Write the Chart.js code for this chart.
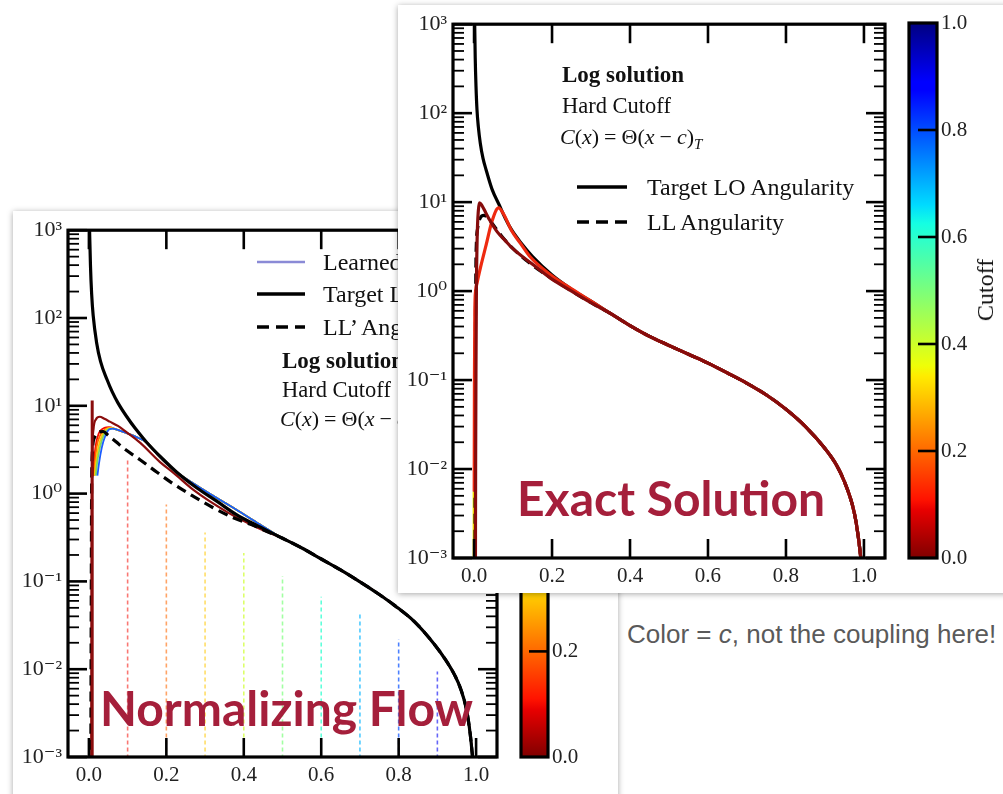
<!DOCTYPE html>
<html><head><meta charset="utf-8">
<script src="https://cdn.jsdelivr.net/npm/chart.js@4.4.0/dist/chart.umd.min.js"></script>
<style>
html,body{margin:0;padding:0;background:#fff;width:1003px;height:794px;overflow:hidden;position:relative}
.card{position:absolute;background:#fff;box-shadow:0 1px 6px rgba(0,0,0,0.35);overflow:hidden}
canvas{position:absolute;top:0}
svg{position:absolute}
.t{position:absolute;white-space:nowrap;line-height:1;transform:translateY(-50%);font-family:"Liberation Serif","DejaVu Serif",serif;color:#111;font-size:24px}
.b{font-weight:bold}
.m{margin:0 5px}
.big{position:absolute;white-space:nowrap;line-height:1;transform:translateY(-50%);font-family:Lato,"Noto Sans",sans-serif;font-weight:bold;font-size:48px;color:#a51f3b}
.note{position:absolute;white-space:nowrap;line-height:1;transform:translateY(-50%);font-family:"Liberation Sans",Arial,sans-serif;font-size:26px;color:#5a5a5a}
</style></head>
<body>
<div class="card" id="backCard" style="left:13px;top:211px;width:605px;height:600px">
  <canvas id="nf" width="500" height="583" style="left:0"></canvas>
  <canvas id="nfbar" width="100" height="583" style="left:502px"></canvas>
  <svg style="left:244px;top:41px" width="48" height="20"><line x1="0" y1="10" x2="48" y2="10" stroke="#8a8ad6" stroke-width="2.5"/></svg>
  <svg style="left:244px;top:73px" width="48" height="20"><line x1="0" y1="10" x2="48" y2="10" stroke="#000" stroke-width="3.5"/></svg>
  <svg style="left:244px;top:106px" width="48" height="20"><line x1="0" y1="10" x2="48" y2="10" stroke="#000" stroke-width="3.5" stroke-dasharray="12 7"/></svg>
  <div class="t" style="left:310px;top:51px">Learned Flow</div>
  <div class="t" style="left:310px;top:83px">Target LO Angularity</div>
  <div class="t" style="left:310px;top:116px">LL’ Angularity</div>
  <div class="t b" style="left:269px;top:149px;font-size:23px">Log solution</div>
  <div class="t" style="left:269px;top:179px;font-size:22.5px">Hard Cutoff</div>
  <div class="t" style="left:267px;top:210px;font-size:22px"><i>C</i>(<i>x</i>)<span class="m">=</span>Θ(<i>x</i><span class="m">−</span><i>c</i>)<sub style="font-size:15px"><i>T</i></sub></div>
  <div class="big" style="left:87px;top:497px">Normalizing Flow</div>
</div>
<div class="card" id="frontCard" style="left:398px;top:5px;width:620px;height:588px">
  <canvas id="ex" width="503" height="588" style="left:0"></canvas>
  <canvas id="exbar" width="100" height="588" style="left:505px"></canvas>
  <div class="t b" style="left:164px;top:69px;font-size:23px">Log solution</div>
  <div class="t" style="left:164px;top:101px;font-size:22.5px">Hard Cutoff</div>
  <div class="t" style="left:162px;top:134px;font-size:22px"><i>C</i>(<i>x</i>)<span class="m">=</span>Θ(<i>x</i><span class="m">−</span><i>c</i>)<sub style="font-size:15px"><i>T</i></sub></div>
  <svg style="left:179px;top:172px" width="50" height="20"><line x1="0" y1="10" x2="50" y2="10" stroke="#000" stroke-width="3.5"/></svg>
  <svg style="left:179px;top:207px" width="50" height="20"><line x1="0" y1="10" x2="50" y2="10" stroke="#000" stroke-width="3.5" stroke-dasharray="12 7"/></svg>
  <div class="t" style="left:249px;top:182px">Target LO Angularity</div>
  <div class="t" style="left:249px;top:217px">LL Angularity</div>
  <div class="t" style="left:587px;top:285px;transform:translate(-50%,-50%) rotate(-90deg);font-size:24px">Cutoff</div>
  <div class="big" style="left:119px;top:493px">Exact Solution</div>
</div>
<div class="note" style="left:627px;top:634px">Color = <i>c</i>, not the coupling here!</div>

<script>
// ---------------- DATA ----------------
const xTickValues = [0, 0.2, 0.4, 0.6, 0.8, 1.0];
const xTickLabels = ['0.0', '0.2', '0.4', '0.6', '0.8', '1.0'];
const yDecades = [-3, -2, -1, 0, 1, 2, 3];
const yTickLabels = ['10⁻³', '10⁻²', '10⁻¹', '10⁰', '10¹', '10²', '10³'];
const cbarRange = [0, 1];
const cbarTicks = [0, 0.2, 0.4, 0.6, 0.8, 1.0];
const cbarTickLabels = ['0.0', '0.2', '0.4', '0.6', '0.8', '1.0'];

// ---- Exact Solution (front) ----
const exTailX = [0.35, 0.4, 0.45, 0.5, 0.55, 0.6, 0.65, 0.7, 0.75, 0.8, 0.85, 0.9, 0.93, 0.95, 0.97, 0.98, 0.99, 0.995];
const exTailY = [0.56, 0.41, 0.31, 0.245, 0.195, 0.155, 0.12, 0.092, 0.068, 0.047, 0.03, 0.017, 0.011, 0.0072, 0.004, 0.0025, 0.0012, 0.0007];
const exTargetX = [0.0015, 0.003, 0.005, 0.0075, 0.011, 0.016, 0.023, 0.031, 0.046, 0.066, 0.08, 0.096, 0.12, 0.15, 0.2, 0.25, 0.3];
const exTargetY = [1100, 420, 200, 110, 70, 46, 31, 23, 14, 9.0, 6.6, 4.9, 3.5, 2.45, 1.52, 1.05, 0.77];
const exLLX = [0.0025, 0.003, 0.0045, 0.006, 0.009, 0.015, 0.025, 0.035, 0.05, 0.07, 0.1, 0.15, 0.2, 0.25, 0.3];
const exLLY = [0.0007, 0.05, 1.5, 3.5, 5.0, 6.5, 7.1, 6.7, 5.5, 4.2, 3.0, 1.95, 1.38, 1.0, 0.74];
const exC0X = [0.0035, 0.004, 0.005, 0.006, 0.008, 0.011, 0.014, 0.02, 0.03, 0.04, 0.06, 0.08, 0.096, 0.15, 0.196, 0.25, 0.3];
const exC0Y = [0.0007, 0.01, 0.16, 1.0, 4.0, 8.0, 9.8, 9.2, 7.6, 6.3, 4.6, 3.7, 3.1, 2.0, 1.4, 1.0, 0.74];
const exC1X = [0.0004, 0.001, 0.002, 0.004, 0.008, 0.016, 0.031, 0.046, 0.063, 0.076, 0.096, 0.12, 0.145, 0.195, 0.25, 0.3];
const exC1Y = [0.0056, 0.1, 0.6, 1.0, 1.25, 1.8, 3.3, 6.1, 8.6, 7.3, 4.8, 3.4, 2.4, 1.54, 1.06, 0.77];
const exC3X = [0.0002, 0.0004];
const exC3Y = [0.0007, 0.0056];

// ---- Normalizing Flow (back) ----
const nfTailX = [0.5, 0.55, 0.6, 0.65, 0.7, 0.75, 0.79, 0.84, 0.893, 0.92, 0.945, 0.96, 0.975, 0.985, 0.993];
const nfTailY = [0.31, 0.24, 0.18, 0.135, 0.099, 0.071, 0.053, 0.035, 0.019, 0.013, 0.0085, 0.006, 0.0035, 0.0018, 0.0008];
const nfTargetX = [0.0015, 0.004, 0.007, 0.011, 0.02, 0.03, 0.047, 0.06, 0.075, 0.097, 0.12, 0.15, 0.19, 0.227, 0.28, 0.33, 0.38, 0.44];
const nfTargetY = [1100, 400, 190, 107, 52, 32, 19.8, 14.5, 10.8, 7.6, 5.5, 3.8, 2.5, 1.75, 1.15, 0.82, 0.58, 0.42];
const nfLLX = [0.005, 0.006, 0.007, 0.009, 0.015, 0.025, 0.037, 0.05, 0.07, 0.089, 0.132, 0.175, 0.218, 0.27, 0.321, 0.373, 0.416, 0.46];
const nfLLY = [0.0008, 0.05, 1.0, 3.0, 4.4, 5.0, 5.1, 4.6, 3.9, 3.3, 2.43, 1.76, 1.29, 0.93, 0.69, 0.53, 0.45, 0.37];
const nfC0X = [0.006, 0.007, 0.009, 0.012, 0.018, 0.028, 0.04, 0.054, 0.075, 0.097, 0.132, 0.183, 0.22, 0.27, 0.356, 0.44];
const nfC0Y = [0.0008, 0.3, 3, 5.5, 7.0, 7.5, 7.1, 6.6, 5.9, 5.0, 3.8, 2.3, 1.7, 1.1, 0.62, 0.4];
const nfSpikeX = [0.0085, 0.0085];
const nfSpikeY = [0.0008, 11.5];
const nfLearnTailX = [0.07, 0.097, 0.123, 0.15, 0.183, 0.22, 0.27, 0.32, 0.38, 0.44];
const nfLearnTailY = [5.4, 4.9, 4.4, 3.8, 2.6, 1.85, 1.3, 0.95, 0.66, 0.45];
const nfRedX = [0.011, 0.013, 0.017, 0.025, 0.04, 0.052];
const nfRedY = [1.6, 2.2, 3.4, 4.8, 5.6, 5.7];
const nfOrangeX = [0.013, 0.015, 0.02, 0.03, 0.045, 0.056];
const nfOrangeY = [1.6, 2.1, 3.4, 4.7, 5.5, 5.6];
const nfYellowX = [0.015, 0.018, 0.024, 0.034, 0.048, 0.058];
const nfYellowY = [1.6, 2.2, 3.3, 4.6, 5.5, 5.6];
const nfGreenX = [0.018, 0.021, 0.028, 0.038, 0.05, 0.06];
const nfGreenY = [1.6, 2.2, 3.3, 4.6, 5.4, 5.5];
const nfBlueX = [0.022, 0.026, 0.033, 0.042, 0.053, 0.062];
const nfBlueY = [1.6, 2.2, 3.3, 4.5, 5.4, 5.5];
const nfCutoffs = [0.1, 0.2, 0.3, 0.4, 0.5, 0.6, 0.7, 0.8, 0.9];
const nfCutoffHeights = [2.5, 0.75, 0.36, 0.21, 0.115, 0.067, 0.042, 0.022, 0.0094];
const nfCutoffBase = 0.0008;

// ---------------- helpers ----------------
const SERIF = '"Liberation Serif", "DejaVu Serif", serif';
const XMIN = -0.054, XMAX = 1.054;
const jetStops = [[0,'#800000'],[0.09,'#e80000'],[0.11,'#ff1300'],[0.34,'#ffec00'],[0.36,'#eeff08'],[0.5,'#7bff7b'],[0.625,'#15ffe2'],[0.66,'#00dbff'],[0.875,'#0000ff'],[0.89,'#0000ff'],[1,'#000080']];
const cutoffColors = ['rgba(244,9,0,0.55)','rgba(255,104,0,0.6)','rgba(255,198,0,0.6)','rgba(205,255,41,0.7)','rgba(123,255,123,0.7)','rgba(41,255,205,0.75)','rgba(0,179,255,0.7)','rgba(0,76,255,0.7)','rgba(0,0,244,0.6)'];

function pts(xs, ys){ return xs.map((x,i)=>({x:x, y:ys[i]})); }
function line(data, color, width, extra){
  return Object.assign({data:data, borderColor:color, borderWidth:width, pointRadius:0, fill:false,
    cubicInterpolationMode:'monotone', borderCapStyle:'butt'}, extra||{});
}
function withOrder(ds){ ds.forEach((d,i)=>{ d.order = -i; }); return ds; }

function framePlugin(){
  return {id:'frame', afterDatasetsDraw(chart){
    const {ctx, chartArea:a, scales:{x, y}} = chart;
    const seg=(x1,y1,x2,y2)=>{ctx.beginPath();ctx.moveTo(x1,y1);ctx.lineTo(x2,y2);ctx.stroke();};
    ctx.save(); ctx.strokeStyle='#000';
    ctx.lineWidth=1.8;
    for(let i=0;i<yDecades.length-1;i++){
      for(let k=2;k<=9;k++){
        const py=y.getPixelForValue(k*Math.pow(10,yDecades[i]));
        seg(a.left,py,a.left+11,py); seg(a.right-11,py,a.right,py);
      }
    }
    ctx.lineWidth=2.6;
    yDecades.forEach(d=>{ const py=y.getPixelForValue(Math.pow(10,d)); seg(a.left,py,a.left+19,py); seg(a.right-19,py,a.right,py); });
    xTickValues.forEach(v=>{ const px=x.getPixelForValue(v); seg(px,a.bottom,px,a.bottom-19); seg(px,a.top,px,a.top+19); });
    ctx.lineWidth=3.2;
    ctx.strokeRect(a.left,a.top,a.right-a.left,a.bottom-a.top);
    ctx.restore();
  }};
}
function cbarFramePlugin(){
  return {id:'cframe', afterDatasetsDraw(chart){
    const {ctx, chartArea:a, scales:{y}} = chart;
    ctx.save(); ctx.strokeStyle='#000'; ctx.lineWidth=2.6;
    cbarTicks.forEach(v=>{ if(v<=cbarRange[0]||v>=cbarRange[1]) return; const py=y.getPixelForValue(v); ctx.beginPath(); ctx.moveTo(a.right-19,py); ctx.lineTo(a.right,py); ctx.stroke(); });
    ctx.lineWidth=3.2; ctx.strokeRect(a.left,a.top,a.right-a.left,a.bottom-a.top);
    ctx.restore();
  }};
}
function plotOptions(pad){
  return {responsive:false, animation:false, devicePixelRatio:1, layout:{padding:pad},
    plugins:{legend:{display:false}, tooltip:{enabled:false}},
    scales:{
      x:{type:'linear', min:XMIN, max:XMAX, grid:{display:false, drawTicks:false}, border:{display:false},
        afterBuildTicks(s){ s.ticks = xTickValues.map(v=>({value:v})); },
        afterFit(s){ s.height = 30; },
        ticks:{autoSkip:false, maxRotation:0, padding:6, color:'#222', font:{family:SERIF, size:21},
          callback:(v)=>{ const i=xTickValues.indexOf(v); return i>=0?xTickLabels[i]:''; }}},
      y:{type:'logarithmic', min:Math.pow(10,yDecades[0]), max:Math.pow(10,yDecades[yDecades.length-1]),
        grid:{display:false, drawTicks:false}, border:{display:false},
        afterBuildTicks(s){ s.ticks = yDecades.map(d=>({value:Math.pow(10,d)})); },
        afterFit(s){ s.width = 50; },
        ticks:{autoSkip:false, padding:6, color:'#222', font:{family:SERIF, size:22},
          callback:(v)=>{ const i=yDecades.indexOf(Math.round(Math.log10(v))); return i>=0?yTickLabels[i]:''; }}}
    }};
}
function cbarChart(id, pad){
  return new Chart(document.getElementById(id), {
    type:'bar',
    data:{labels:['Cutoff'], datasets:[{data:[cbarRange], borderWidth:0, barPercentage:1, categoryPercentage:1,
      backgroundColor(ctx){ const a=ctx.chart.chartArea; if(!a) return '#888';
        const g=ctx.chart.ctx.createLinearGradient(0,a.bottom,0,a.top); jetStops.forEach(s=>g.addColorStop(s[0],s[1])); return g; }}]},
    options:{responsive:false, animation:false, devicePixelRatio:1, layout:{padding:pad},
      plugins:{legend:{display:false}, tooltip:{enabled:false}},
      scales:{x:{display:false},
        y:{position:'right', min:cbarRange[0], max:cbarRange[1], grid:{display:false, drawTicks:false}, border:{display:false},
          afterBuildTicks(s){ s.ticks = cbarTicks.map(v=>({value:v})); },
          afterFit(s){ s.width = 40; },
          ticks:{padding:4, color:'#222', font:{family:SERIF, size:21},
            callback:(v)=>{ const i=cbarTicks.indexOf(v); return i>=0?cbarTickLabels[i]:''; }}}}},
    plugins:[cbarFramePlugin()]
  });
}

// ---------------- Normalizing flow chart ----------------
const nfDatasets = [];
nfCutoffs.forEach((c,i)=>{
  nfDatasets.push(line([{x:c,y:nfCutoffBase},{x:c,y:nfCutoffHeights[i]}], cutoffColors[i], 1.6, {borderDash:[4,3], cubicInterpolationMode:'default', tension:0}));
});
const rainbow = [[nfRedX,nfRedY,'#f40900'],[nfOrangeX,nfOrangeY,'#ff6800'],[nfYellowX,nfYellowY,'#ffc600'],[nfGreenX,nfGreenY,'#7bd860'],[nfBlueX,nfBlueY,'#1a5cff']];
rainbow.forEach(r=>{
  nfDatasets.push(line(pts(r[0].concat(nfLearnTailX, nfTailX), r[1].concat(nfLearnTailY, nfTailY)), r[2], 1.8));
});
nfDatasets.push(line(pts(nfC0X.concat(nfTailX), nfC0Y.concat(nfTailY)), '#8a0d0d', 2.2));
nfDatasets.push(line(pts(nfLLX.concat(nfTailX), nfLLY.concat(nfTailY)), '#000', 3.2, {borderDash:[10,6]}));
nfDatasets.push(line(pts(nfTargetX.concat(nfTailX), nfTargetY.concat(nfTailY)), '#000', 3.2));
nfDatasets.push(line(pts(nfSpikeX, nfSpikeY), '#8a0d0d', 3, {cubicInterpolationMode:'default', tension:0}));
new Chart(document.getElementById('nf'), {type:'line', data:{datasets:withOrder(nfDatasets)},
  options:plotOptions({left:5, right:16, top:18, bottom:7}), plugins:[framePlugin()]});
cbarChart('nfbar', {left:6, right:27, top:18, bottom:37});

// ---------------- Exact solution chart ----------------
const exDatasets = [];
exDatasets.push(line(pts(exC3X, exC3Y), '#f2e400', 3.2, {cubicInterpolationMode:'default', tension:0}));
exDatasets.push(line(pts(exTargetX.concat(exTailX), exTargetY.concat(exTailY)), '#000', 3.2));
exDatasets.push(line(pts(exLLX.concat(exTailX), exLLY.concat(exTailY)), '#000', 3.2, {borderDash:[10,6]}));
exDatasets.push(line(pts(exC1X.concat(exTailX), exC1Y.concat(exTailY)), '#ee2a10', 3.2));
exDatasets.push(line(pts(exC0X.concat(exTailX), exC0Y.concat(exTailY)), '#860c0c', 3.2));
new Chart(document.getElementById('ex'), {type:'line', data:{datasets:withOrder(exDatasets)},
  options:plotOptions({left:5, right:16, top:18, bottom:5}), plugins:[framePlugin()]});
cbarChart('exbar', {left:6, right:26, top:18, bottom:35});
</script>
</body></html>
